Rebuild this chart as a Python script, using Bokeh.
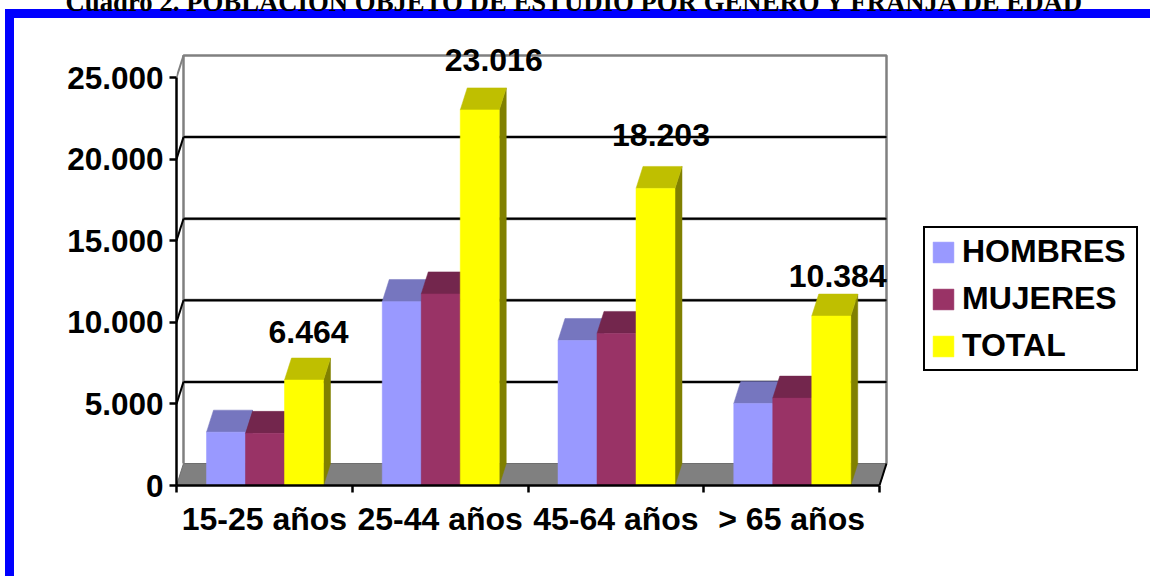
from bokeh.plotting import figure
from bokeh.embed import file_html
from bokeh.resources import INLINE
from bokeh.models import Range1d, FixedTicker, Legend, LegendItem, ColumnDataSource
from bokeh.core.properties import value
import numpy as np

categories = ["15-25 años", "25-44 años", "45-64 años", "> 65 años"]
hombres = [3270, 11275, 8885, 5030]
mujeres = [3194, 11741, 9318, 5354]
total = [6464, 23016, 18203, 10384]
total_labels = ["6.464", "23.016", "18.203", "10.384"]
y_ticks = [0, 5000, 10000, 15000, 20000, 25000]
y_tick_labels = {0: "0", 5000: "5.000", 10000: "10.000", 15000: "15.000", 20000: "20.000", 25000: "25.000"}
title = "Cuadro 2. POBLACIÓN OBJETO DE ESTUDIO POR GENERO Y FRANJA DE EDAD"

# layout constants (page pixels)
W, H = 1150, 576
FL, FB = 176, 485          # frame left, axis baseline
FT = 30                    # frame top
PX_X = 175.75              # pixels per category
PX_Y = 408 / 25000         # pixels per unit
DX, DY = 7 / PX_X, 22 / PX_Y   # oblique depth in data units
BAR = 39 / PX_X
GROUP0 = 30 / PX_X
FONT = "Liberation Sans"
FS = "32px"
TOP_SHIFT = 29             # part of the canvas above the page, which crops the title

blue = "linear-gradient(#0000FF,#0000FF)"
p = figure(frame_width=W - FL, frame_height=FB - FT, output_backend="svg", toolbar_location=None,
           x_range=Range1d(0, (W - FL) / PX_X), y_range=Range1d(0, (FB - FT) / PX_Y),
           min_border_left=FL, min_border_bottom=H - FB, min_border_top=0, min_border_right=0,
           outline_line_color=None, background_fill_color="white", border_fill_color=None,
           margin=(-TOP_SHIFT, 0, 0, 0),
           styles={"background": f"{blue} 5px {9 + TOP_SHIFT}px / 9px 100% no-repeat, "
                                 f"{blue} 5px {9 + TOP_SHIFT}px / 100% 9px no-repeat, white"})
p.grid.visible = False
p.title.text = title
p.title.align = "left"
p.title.offset = 65 - FL
p.title.standoff = 27
p.title.text_font = "Liberation Serif"
p.title.text_font_style = "bold"
p.title.text_font_size = "26.75px"
p.title.text_color = "black"

n = len(categories)
# floor
p.patch([0, n, n + DX, DX], [0, 0, DY, DY], fill_color="#808080", line_color="#6e6e6e", line_width=1)
# back wall
p.line([DX, DX, n + DX, n + DX], [DY, 25000 + DY, 25000 + DY, DY], line_color="#808080", line_width=2.5)
# grid on the wall
gy = [t + DY for t in y_ticks[1:-1]]
p.segment([DX] * 4, gy, [n + DX] * 4, gy, line_color="#808080", line_width=3)
p.segment([DX] * 4, gy, [n + DX] * 4, gy, line_color="black", line_width=2)
p.segment([0] * 4, y_ticks[1:-1], [DX] * 4, gy, line_color="black", line_width=2)
p.segment([0], [25000], [DX], [25000 + DY], line_color="#808080", line_width=2)
p.segment([n], [0], [n + DX], [DY], line_color="black", line_width=2)

series = [("HOMBRES", hombres, "#9999FF", "#7676BF", "#5c5c99", 0),
          ("MUJERES", mujeres, "#993366", "#73264D", "#4d1a33", 1),
          ("TOTAL", total, "#FFFF00", "#BFBF00", "#808000", 2)]
items = []
for name, vals, front, top, side, k in series:
    left = np.arange(n) + GROUP0 + k * BAR
    right = left + BAR
    v = np.array(vals, float)
    p.patches([[r, r + DX, r + DX, r] for r in right],
              [[0, DY, y + DY, y] for y in v], fill_color=side, line_color=side, line_width=0.5)
    p.patches([[l, r, r + DX, l + DX] for l, r in zip(left, right)],
              [[y, y, y + DY, y + DY] for y in v], fill_color=top, line_color=top, line_width=0.5)
    r = p.vbar(x=left + BAR / 2, top=v, bottom=0, width=BAR, fill_color=front, line_color=front, line_width=0.5)
    items.append(LegendItem(label=name, renderers=[r]))

# data labels
label_dx = [4.5, 14, 5.5, 6.5]
label_dy = [-26, -28, -31, -18]
src = ColumnDataSource(dict(x=np.arange(n) + GROUP0 + 2.5 * BAR, y=np.array(total, float) + DY,
                            t=total_labels, dx=label_dx, dy=label_dy))
p.text(x="x", y="y", text="t", source=src, x_offset="dx", y_offset="dy", text_align="center",
       text_baseline="alphabetic", text_font=value(FONT), text_font_style="bold",
       text_font_size=value(FS), text_color="black")

# axes
ya = p.yaxis[0]
ya.ticker = FixedTicker(ticks=y_ticks)
ya.major_label_overrides = y_tick_labels
ya.bounds = (0, 25000)
ya.axis_line_color = "black"; ya.axis_line_width = 2.5
ya.major_tick_line_color = "black"; ya.major_tick_line_width = 2.5
ya.major_tick_out = 7; ya.major_tick_in = 0
ya.minor_tick_line_color = None
ya.major_label_standoff = 6
ya.major_label_text_font = FONT; ya.major_label_text_font_style = "bold"
ya.major_label_text_font_size = "31.5px"; ya.major_label_text_color = "black"

xa = p.xaxis[0]
centers = [i + 0.5 for i in range(n)]
xa.ticker = FixedTicker(ticks=centers, minor_ticks=list(range(n + 1)))
xa.major_label_overrides = {c: t for c, t in zip(centers, categories)}
xa.bounds = (0, n)
xa.axis_line_color = "black"; xa.axis_line_width = 2.5
xa.major_tick_line_color = None
xa.major_tick_out = 0; xa.major_tick_in = 0
xa.minor_tick_line_color = "black"; xa.minor_tick_line_width = 2.5
xa.minor_tick_out = 7; xa.minor_tick_in = 0
xa.major_label_standoff = 8
xa.major_label_text_font = FONT; xa.major_label_text_font_style = "bold"
xa.major_label_text_font_size = FS; xa.major_label_text_color = "black"

# legend
lg = Legend(items=items, location=(923 - FL, FB - 371), orientation="vertical",
            border_line_color="black", border_line_width=2.5, border_line_alpha=1,
            background_fill_color="white", background_fill_alpha=1,
            glyph_width=26, glyph_height=26, label_standoff=6, label_width=169,
            spacing=10, padding=5, margin=0, label_text_font=FONT, label_text_font_style="bold",
            label_text_font_size=FS, label_text_color="black")
p.add_layout(lg, "center")

open("out.html", "w").write(file_html(p, INLINE))
